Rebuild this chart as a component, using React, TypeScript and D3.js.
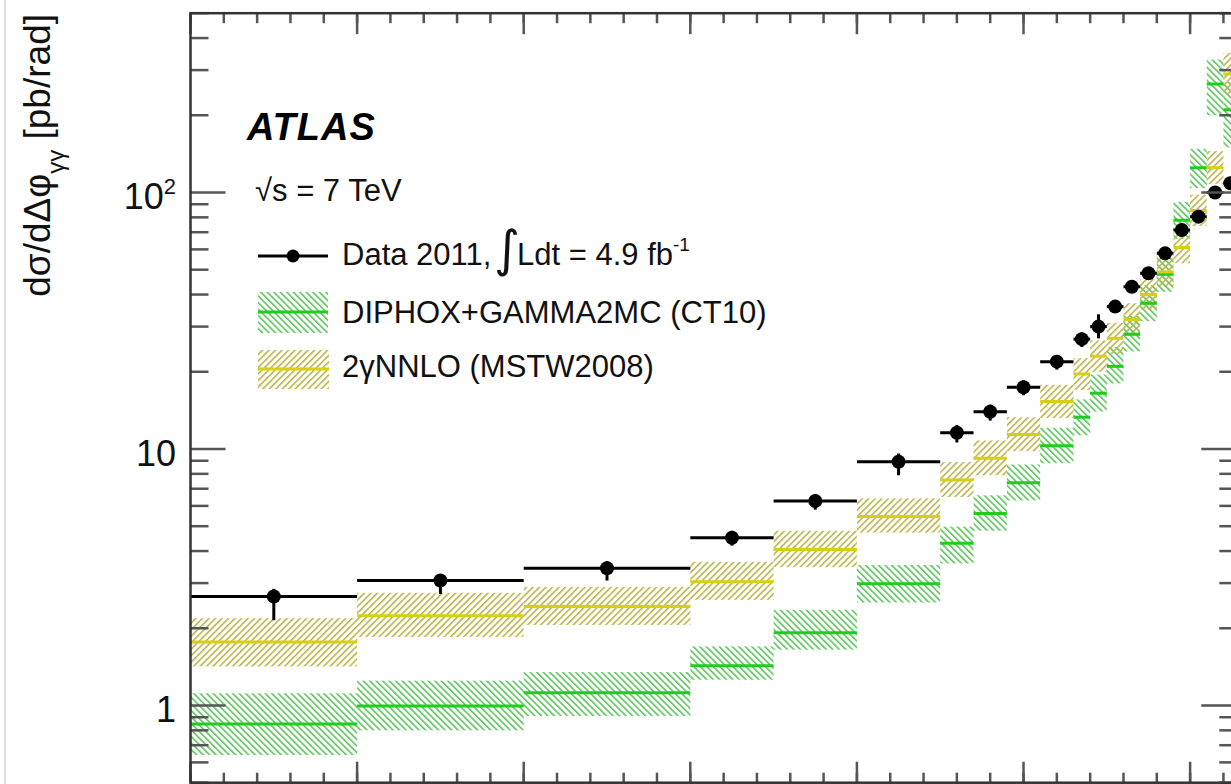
import React from 'react';
import * as d3 from 'd3';

// Bin edges in Δφγγ [rad]
const binEdges = [0, 0.5, 1.0, 1.5, 1.75, 2.0, 2.25, 2.35, 2.45, 2.55, 2.65, 2.70, 2.75, 2.80, 2.85, 2.90, 2.95, 3.00, 3.05, 3.10, Math.PI];

// Data 2011
const dataValues = [2.66, 3.07, 3.43, 4.51, 6.27, 8.92, 11.57, 13.97, 17.4, 21.9, 26.8, 30.0, 35.9, 42.9, 48.4, 57.9, 71.4, 80.5, 100, 108.7];
const dataLow = [2.15, 2.72, 3.07, 4.2, 5.8, 7.9, 10.6, 12.9, 16.2, 20.4, 25.0, 27.0, 34.0, 41.0, 46.0, 55.0, 68.0, 77.0, 95.0, 103.0];
const dataHigh = [2.85, 3.25, 3.65, 4.8, 6.65, 9.6, 12.4, 14.9, 18.5, 23.2, 28.5, 33.5, 38.0, 45.0, 51.0, 61.0, 75.0, 84.0, 105.0, 114.0];

// DIPHOX+GAMMA2MC (CT10)
const diphoxValues = [0.847, 0.995, 1.12, 1.43, 1.92, 2.98, 4.29, 5.61, 7.39, 10.3, 13.3, 16.5, 21, 28, 37, 48, 78, 125, 265, 210];
const diphoxLow = [0.641, 0.80, 0.91, 1.26, 1.65, 2.52, 3.58, 4.8, 6.3, 8.8, 11.3, 14, 18, 24, 31.5, 41, 66, 104, 200, 150];
const diphoxHigh = [1.116, 1.25, 1.35, 1.70, 2.36, 3.53, 4.98, 6.6, 8.7, 12.1, 15.6, 19.5, 25, 33, 43.5, 57, 92, 148, 330, 270];

// 2γNNLO (MSTW2008)
const nnloValues = [1.77, 2.24, 2.43, 3.04, 4.06, 5.45, 7.57, 9.2, 11.4, 15.3, 19.6, 23, 27, 32, 40, 49, 61, 85, 125, 290];
const nnloLow = [1.42, 1.85, 2.06, 2.58, 3.46, 4.72, 6.5, 7.9, 9.8, 13.2, 17.0, 20, 23.5, 28, 35, 43, 53, 74, 108, 240];
const nnloHigh = [2.19, 2.75, 2.90, 3.63, 4.80, 6.42, 8.9, 10.8, 13.3, 17.8, 22.6, 26.5, 31, 37, 46, 56, 70, 98, 145, 350];

const yMajorTicks = [1, 10, 100];
const yTickLabels = ['1', '10', '10'];
const yTickSup = ['', '', '2'];

const W = 1231;
const H = 784;
const FONT = "'Liberation Sans', Arial, Helvetica, sans-serif";

const GREEN_HATCH = '#5cc45c';
const GREEN_LINE = '#1fcc1f';
const YELLOW_HATCH = '#bcb548';
const YELLOW_LINE = '#d6cf14';

export default function App() {
  const x = d3.scaleLinear().domain([0, Math.PI]).range([190.5, 1237.3]);
  const y = d3.scaleLog().domain([0.5, 500]).range([782.7, 13.2]);
  const [x0, x1] = x.range();
  const [yb, yt] = y.range();

  const bins = dataValues.map((_, i) => ({ lo: binEdges[i], hi: binEdges[i + 1] }));

  const xMinor = d3.range(0, 32).map((k) => k * 0.1).filter((v) => v <= Math.PI);
  const xMajor = d3.range(0, 7).map((k) => k * 0.5);
  const yMinor: number[] = [];
  [0.1, 1, 10, 100].forEach((dec) => {
    for (let k = 2; k <= 9; k++) {
      const v = k * dec;
      if (v >= 0.5 && v <= 500) yMinor.push(v);
    }
  });

  const band = (lo: number[], hi: number[], fill: string, key: string) =>
    bins.map((b, i) => (
      <rect
        key={key + i}
        x={x(b.lo)}
        y={y(hi[i])}
        width={x(b.hi) - x(b.lo)}
        height={y(lo[i]) - y(hi[i])}
        fill={fill}
      />
    ));
  const centers = (vals: number[], color: string, key: string) =>
    bins.map((b, i) => (
      <line key={key + i} x1={x(b.lo)} x2={x(b.hi)} y1={y(vals[i])} y2={y(vals[i])} stroke={color} strokeWidth={3} />
    ));

  return (
    <svg width={W} height={H} style={{ position: 'absolute', left: 0, top: 0, background: '#fff' }} fontFamily={FONT}>
      <defs>
        <pattern id="hatchGreen" patternUnits="userSpaceOnUse" width={4.6} height={4.6} patternTransform="rotate(-45)">
          <rect x={0} y={0} width={1.6} height={4.6} fill={GREEN_HATCH} />
        </pattern>
        <pattern id="hatchYellow" patternUnits="userSpaceOnUse" width={4.6} height={4.6} patternTransform="rotate(45)">
          <rect x={0} y={0} width={1.6} height={4.6} fill={YELLOW_HATCH} />
        </pattern>
        <clipPath id="plotClip">
          <rect x={x0} y={yt} width={x1 - x0} height={yb - yt} />
        </clipPath>
      </defs>
      <rect x={0} y={0} width={W} height={H} fill="#fff" />
      <line x1={5} x2={5} y1={0} y2={H} stroke="#d4d4d4" strokeWidth={1.5} />

      <g clipPath="url(#plotClip)">
        {band(diphoxLow, diphoxHigh, 'url(#hatchGreen)', 'gb')}
        {band(nnloLow, nnloHigh, 'url(#hatchYellow)', 'yb')}
        {centers(diphoxValues, GREEN_LINE, 'gl')}
        {centers(nnloValues, YELLOW_LINE, 'yl')}
        {bins.map((b, i) => (
          <g key={'d' + i}>
            <line x1={x(b.lo)} x2={x(b.hi)} y1={y(dataValues[i])} y2={y(dataValues[i])} stroke="#000" strokeWidth={3} />
            <line
              x1={x((b.lo + b.hi) / 2)}
              x2={x((b.lo + b.hi) / 2)}
              y1={y(dataLow[i])}
              y2={y(dataHigh[i])}
              stroke="#000"
              strokeWidth={3}
            />
            <circle cx={x((b.lo + b.hi) / 2)} cy={y(dataValues[i])} r={7} fill="#000" />
          </g>
        ))}
      </g>

      {/* ticks */}
      <g stroke="#555" strokeWidth={2.5}>
        {xMinor.map((v, i) => (
          <g key={'xm' + i}>
            <line x1={x(v)} x2={x(v)} y1={yt} y2={yt + 10} />
            <line x1={x(v)} x2={x(v)} y1={yb} y2={yb - 10} />
          </g>
        ))}
        {xMajor.map((v, i) => (
          <g key={'xM' + i}>
            <line x1={x(v)} x2={x(v)} y1={yt} y2={yt + 21} />
            <line x1={x(v)} x2={x(v)} y1={yb} y2={yb - 21} />
          </g>
        ))}
        {yMinor.map((v, i) => (
          <g key={'ym' + i}>
            <line x1={x0} x2={x0 + 18} y1={y(v)} y2={y(v)} />
            <line x1={x1} x2={x1 - 18} y1={y(v)} y2={y(v)} />
          </g>
        ))}
        {yMajorTicks.map((v, i) => (
          <g key={'yM' + i}>
            <line x1={x0} x2={x0 + 35} y1={y(v)} y2={y(v)} />
            <line x1={x1} x2={x1 - 36} y1={y(v)} y2={y(v)} />
          </g>
        ))}
      </g>

      {/* frame */}
      <rect x={x0} y={yt} width={x1 - x0} height={yb - yt} fill="none" stroke="#333" strokeWidth={2.5} />

      {/* y tick labels */}
      {yMajorTicks.map((v, i) => (
        <text key={'yl' + i} x={176} y={y(v) + 17} fontSize={36} textAnchor="end" fill="#111">
          {yTickLabels[i]}
          {yTickSup[i] && (
            <tspan fontSize={22} dy={-15}>
              {yTickSup[i]}
            </tspan>
          )}
        </text>
      ))}

      {/* y axis title */}
      <text transform="translate(50,14) rotate(-90)" textAnchor="end" fontSize={37} fill="#111">
        dσ/dΔφ
        <tspan fontSize={24} dy={14}>γγ</tspan>
        <tspan dy={-14}> [pb/rad]</tspan>
      </text>

      {/* ATLAS label */}
      <text x={247} y={140} fontSize={38} fontWeight="bold" fontStyle="italic" fill="#000" letterSpacing={1}>
        ATLAS
      </text>
      <text x={255} y={201} fontSize={31} fill="#111">
        √s = 7 TeV
      </text>

      {/* legend */}
      <line x1={258} x2={328} y1={256} y2={256} stroke="#000" strokeWidth={3} />
      <circle cx={293} cy={256} r={6.5} fill="#000" />
      <text x={342} y={265} fontSize={31} fill="#111">Data 2011,</text>
      <text x={494} y={266} fontSize={50} fill="#111" fontFamily="'DejaVu Sans', sans-serif">∫</text>
      <text x={517} y={265} fontSize={31} fill="#111">
        Ldt = 4.9 fb
        <tspan fontSize={19} dy={-14}>-1</tspan>
      </text>

      <rect x={258} y={292} width={70} height={41} fill="url(#hatchGreen)" />
      <line x1={258} x2={328} y1={312} y2={312} stroke={GREEN_LINE} strokeWidth={3} />
      <text x={342} y={323} fontSize={31} fill="#111">DIPHOX+GAMMA2MC (CT10)</text>

      <rect x={258} y={350} width={71} height={39} fill="url(#hatchYellow)" />
      <line x1={258} x2={329} y1={369} y2={369} stroke={YELLOW_LINE} strokeWidth={3} />
      <text x={342} y={377} fontSize={31} fill="#111">2γNNLO (MSTW2008)</text>
    </svg>
  );
}
